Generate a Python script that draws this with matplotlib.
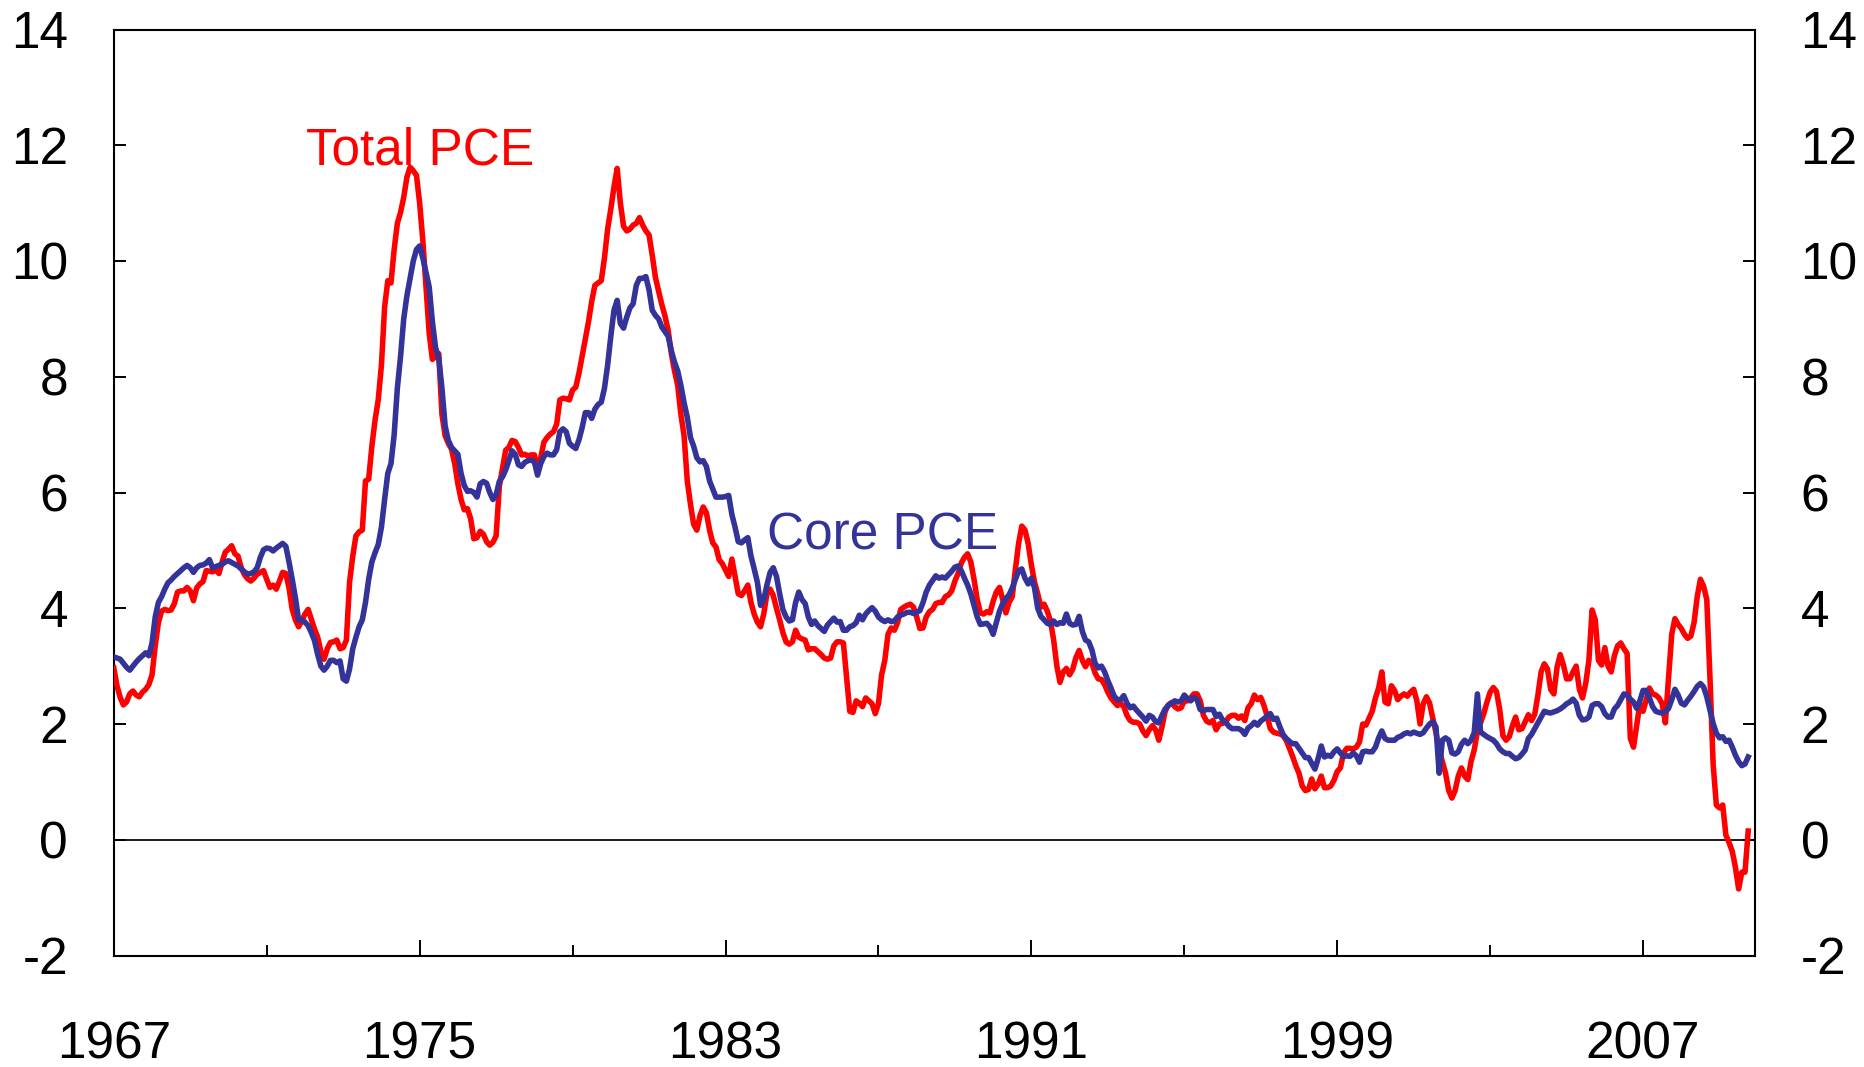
import numpy as np
import matplotlib
matplotlib.use("Agg")
import matplotlib.pyplot as plt
from matplotlib.ticker import FixedLocator

plt.rcParams['font.family'] = ['Liberation Sans', 'DejaVu Sans']

# ---- data: 12-month % change, monthly, Jan 1967 - Oct 2009 ----
total_pce = {
    1967: [2.97, 2.66, 2.46, 2.33, 2.38, 2.52, 2.57, 2.50, 2.47, 2.55, 2.60, 2.68],
    1968: [2.85, 3.35, 3.75, 3.95, 3.98, 3.96, 3.97, 4.08, 4.28, 4.30, 4.30, 4.36],
    1969: [4.30, 4.13, 4.35, 4.42, 4.46, 4.65, 4.64, 4.63, 4.66, 4.60, 4.80, 4.97],
    1970: [5.02, 5.08, 4.94, 4.90, 4.70, 4.58, 4.51, 4.47, 4.52, 4.59, 4.62, 4.65],
    1971: [4.50, 4.36, 4.40, 4.33, 4.47, 4.62, 4.60, 4.35, 3.98, 3.80, 3.68, 3.78],
    1972: [3.90, 3.98, 3.81, 3.64, 3.50, 3.25, 3.12, 3.30, 3.41, 3.42, 3.45, 3.30],
    1973: [3.32, 3.45, 4.45, 4.90, 5.25, 5.32, 5.35, 6.20, 6.23, 6.80, 7.25, 7.60],
    1974: [8.20, 9.20, 9.66, 9.62, 10.20, 10.65, 10.84, 11.10, 11.45, 11.62, 11.56, 11.48],
    1975: [11.00, 10.35, 9.55, 8.75, 8.30, 8.35, 8.40, 7.35, 6.98, 6.85, 6.75, 6.50],
    1976: [6.15, 5.88, 5.70, 5.72, 5.55, 5.20, 5.22, 5.33, 5.28, 5.15, 5.09, 5.14],
    1977: [5.25, 6.10, 6.42, 6.73, 6.78, 6.90, 6.88, 6.78, 6.65, 6.66, 6.63, 6.65],
    1978: [6.65, 6.40, 6.60, 6.87, 6.95, 7.01, 7.05, 7.18, 7.60, 7.63, 7.62, 7.60],
    1979: [7.77, 7.82, 8.06, 8.35, 8.65, 8.95, 9.30, 9.58, 9.62, 9.66, 10.05, 10.55],
    1980: [10.90, 11.28, 11.60, 11.00, 10.60, 10.52, 10.55, 10.62, 10.65, 10.75, 10.62, 10.52],
    1981: [10.45, 10.10, 9.72, 9.48, 9.25, 9.05, 8.80, 8.40, 8.10, 7.85, 7.35, 6.98],
    1982: [6.20, 5.80, 5.45, 5.35, 5.60, 5.75, 5.65, 5.35, 5.13, 5.06, 4.84, 4.77],
    1983: [4.66, 4.55, 4.85, 4.55, 4.25, 4.22, 4.30, 4.40, 4.10, 3.90, 3.76, 3.68],
    1984: [3.90, 4.25, 4.33, 4.22, 4.00, 3.80, 3.58, 3.42, 3.38, 3.42, 3.62, 3.50],
    1985: [3.47, 3.45, 3.28, 3.30, 3.30, 3.25, 3.20, 3.14, 3.12, 3.14, 3.35, 3.42],
    1986: [3.42, 3.40, 2.80, 2.22, 2.20, 2.40, 2.36, 2.30, 2.45, 2.40, 2.35, 2.18],
    1987: [2.35, 2.85, 3.10, 3.55, 3.66, 3.62, 3.75, 3.98, 4.02, 4.05, 4.07, 4.02],
    1988: [3.85, 3.65, 3.66, 3.85, 3.94, 3.98, 4.08, 4.10, 4.10, 4.20, 4.23, 4.30],
    1989: [4.47, 4.60, 4.78, 4.88, 4.94, 4.80, 4.50, 4.15, 3.92, 3.90, 3.94, 3.92],
    1990: [4.12, 4.28, 4.36, 4.15, 3.92, 4.10, 4.20, 4.68, 5.12, 5.42, 5.35, 5.12],
    1991: [4.75, 4.45, 4.25, 4.02, 4.07, 3.95, 3.78, 3.45, 3.00, 2.72, 2.90, 2.96],
    1992: [2.85, 2.95, 3.15, 3.27, 3.10, 2.99, 3.10, 3.05, 2.88, 2.78, 2.77, 2.68],
    1993: [2.55, 2.45, 2.38, 2.32, 2.35, 2.30, 2.15, 2.06, 2.03, 2.03, 2.00, 1.88],
    1994: [1.80, 1.90, 1.97, 1.90, 1.72, 1.95, 2.22, 2.33, 2.37, 2.30, 2.26, 2.28],
    1995: [2.40, 2.40, 2.45, 2.52, 2.52, 2.40, 2.15, 2.05, 2.02, 2.06, 1.90, 2.00],
    1996: [2.01, 2.04, 2.12, 2.15, 2.15, 2.10, 2.14, 2.06, 2.28, 2.35, 2.50, 2.42],
    1997: [2.46, 2.32, 2.14, 1.92, 1.86, 1.84, 1.83, 1.80, 1.72, 1.58, 1.44, 1.28],
    1998: [1.15, 0.93, 0.85, 0.87, 1.05, 0.88, 0.96, 1.10, 0.90, 0.90, 0.93, 1.03],
    1999: [1.18, 1.24, 1.50, 1.58, 1.58, 1.57, 1.60, 1.69, 2.00, 1.98, 2.10, 2.22],
    2000: [2.45, 2.62, 2.90, 2.38, 2.35, 2.66, 2.58, 2.42, 2.48, 2.52, 2.48, 2.55],
    2001: [2.60, 2.40, 2.00, 2.35, 2.47, 2.36, 2.10, 1.85, 1.55, 1.35, 1.15, 0.85],
    2002: [0.72, 0.85, 1.10, 1.24, 1.10, 1.04, 1.35, 1.55, 1.87, 2.02, 2.18, 2.38],
    2003: [2.55, 2.63, 2.56, 2.25, 1.80, 1.72, 1.78, 1.97, 2.12, 1.90, 1.92, 2.04],
    2004: [2.16, 2.06, 2.17, 2.50, 2.90, 3.04, 2.95, 2.60, 2.52, 2.98, 3.20, 3.02],
    2005: [2.78, 2.78, 2.90, 3.00, 2.60, 2.45, 2.70, 3.10, 3.97, 3.80, 3.10, 3.02],
    2006: [3.32, 3.00, 2.90, 3.18, 3.35, 3.40, 3.30, 3.22, 1.75, 1.60, 1.98, 2.35],
    2007: [2.22, 2.42, 2.62, 2.52, 2.50, 2.45, 2.35, 2.02, 2.80, 3.55, 3.82, 3.72],
    2008: [3.65, 3.55, 3.48, 3.52, 3.75, 4.20, 4.50, 4.38, 4.15, 2.80, 1.30, 0.60],
    2009: [0.55, 0.60, 0.08, -0.05, -0.20, -0.48, -0.85, -0.56, -0.56, 0.15],
}

core_pce = {
    1967: [3.16, 3.14, 3.12, 3.05, 2.98, 2.93, 3.00, 3.07, 3.13, 3.18, 3.23, 3.18],
    1968: [3.40, 3.85, 4.10, 4.20, 4.33, 4.44, 4.49, 4.55, 4.60, 4.65, 4.70, 4.74],
    1969: [4.70, 4.62, 4.70, 4.74, 4.75, 4.78, 4.84, 4.70, 4.72, 4.74, 4.76, 4.80],
    1970: [4.82, 4.79, 4.76, 4.73, 4.68, 4.63, 4.59, 4.60, 4.63, 4.70, 4.88, 5.01],
    1971: [5.04, 5.03, 4.99, 5.04, 5.08, 5.12, 5.07, 4.80, 4.50, 4.18, 3.80, 3.80],
    1972: [3.76, 3.70, 3.58, 3.44, 3.20, 3.00, 2.93, 3.00, 3.10, 3.10, 3.06, 3.09],
    1973: [2.78, 2.74, 2.95, 3.30, 3.50, 3.68, 3.80, 4.10, 4.50, 4.80, 4.96, 5.10],
    1974: [5.40, 5.88, 6.33, 6.50, 7.00, 7.80, 8.35, 9.00, 9.40, 9.70, 10.00, 10.20],
    1975: [10.26, 10.05, 9.80, 9.55, 8.95, 8.50, 8.32, 7.80, 7.15, 6.90, 6.78, 6.72],
    1976: [6.66, 6.33, 6.12, 6.02, 6.03, 6.00, 5.92, 6.15, 6.19, 6.16, 6.00, 5.88],
    1977: [5.96, 6.19, 6.27, 6.39, 6.55, 6.72, 6.66, 6.48, 6.45, 6.52, 6.55, 6.56],
    1978: [6.53, 6.30, 6.50, 6.62, 6.68, 6.65, 6.65, 6.74, 7.05, 7.10, 7.05, 6.85],
    1979: [6.80, 6.76, 6.91, 7.12, 7.38, 7.38, 7.28, 7.44, 7.52, 7.56, 7.80, 8.20],
    1980: [8.70, 9.15, 9.32, 8.92, 8.84, 9.03, 9.19, 9.26, 9.58, 9.70, 9.70, 9.73],
    1981: [9.50, 9.15, 9.06, 9.00, 8.86, 8.78, 8.70, 8.45, 8.25, 8.10, 7.85, 7.55],
    1982: [7.30, 6.95, 6.80, 6.60, 6.53, 6.55, 6.45, 6.20, 6.06, 5.92, 5.92, 5.92],
    1983: [5.93, 5.95, 5.62, 5.40, 5.15, 5.13, 5.18, 5.22, 4.90, 4.68, 4.45, 4.05],
    1984: [4.15, 4.40, 4.62, 4.70, 4.55, 4.25, 3.98, 3.85, 3.78, 3.80, 4.10, 4.28],
    1985: [4.15, 4.08, 3.85, 3.72, 3.78, 3.70, 3.65, 3.60, 3.71, 3.77, 3.83, 3.76],
    1986: [3.77, 3.62, 3.62, 3.68, 3.70, 3.75, 3.88, 3.80, 3.90, 3.96, 4.01, 3.95],
    1987: [3.85, 3.80, 3.77, 3.80, 3.77, 3.78, 3.85, 3.88, 3.90, 3.93, 3.93, 3.91],
    1988: [3.93, 3.96, 4.10, 4.28, 4.40, 4.48, 4.56, 4.52, 4.54, 4.52, 4.58, 4.64],
    1989: [4.71, 4.73, 4.65, 4.52, 4.40, 4.25, 4.05, 3.85, 3.72, 3.73, 3.74, 3.68],
    1990: [3.55, 3.75, 3.95, 4.08, 4.17, 4.23, 4.35, 4.50, 4.65, 4.68, 4.52, 4.42],
    1991: [4.52, 4.35, 4.00, 3.86, 3.80, 3.74, 3.72, 3.78, 3.72, 3.75, 3.74, 3.90],
    1992: [3.74, 3.71, 3.72, 3.86, 3.60, 3.45, 3.42, 3.28, 3.05, 2.97, 3.00, 2.90],
    1993: [2.75, 2.62, 2.48, 2.42, 2.42, 2.49, 2.36, 2.28, 2.31, 2.24, 2.18, 2.12],
    1994: [2.05, 2.15, 2.12, 2.04, 2.02, 2.15, 2.26, 2.32, 2.36, 2.40, 2.38, 2.40],
    1995: [2.50, 2.44, 2.40, 2.46, 2.42, 2.25, 2.23, 2.25, 2.25, 2.25, 2.13, 2.17],
    1996: [2.07, 2.03, 1.96, 1.92, 1.92, 1.92, 1.89, 1.82, 1.93, 1.97, 2.03, 1.98],
    1997: [2.05, 2.09, 2.14, 2.18, 2.08, 2.10, 1.95, 1.82, 1.75, 1.70, 1.66, 1.66],
    1998: [1.58, 1.50, 1.42, 1.42, 1.32, 1.22, 1.40, 1.62, 1.43, 1.46, 1.44, 1.52],
    1999: [1.57, 1.50, 1.44, 1.45, 1.44, 1.50, 1.45, 1.34, 1.52, 1.53, 1.52, 1.52],
    2000: [1.60, 1.76, 1.88, 1.75, 1.72, 1.72, 1.72, 1.77, 1.79, 1.83, 1.85, 1.83],
    2001: [1.86, 1.84, 1.82, 1.85, 1.93, 2.00, 2.04, 1.95, 1.15, 1.72, 1.76, 1.72],
    2002: [1.50, 1.48, 1.52, 1.65, 1.72, 1.66, 1.72, 1.85, 2.52, 1.86, 1.82, 1.78],
    2003: [1.75, 1.72, 1.66, 1.57, 1.52, 1.49, 1.49, 1.44, 1.40, 1.42, 1.48, 1.55],
    2004: [1.75, 1.82, 1.92, 2.02, 2.12, 2.22, 2.20, 2.19, 2.21, 2.23, 2.26, 2.30],
    2005: [2.35, 2.38, 2.43, 2.36, 2.15, 2.07, 2.08, 2.12, 2.32, 2.35, 2.35, 2.30],
    2006: [2.18, 2.12, 2.12, 2.26, 2.32, 2.42, 2.52, 2.50, 2.43, 2.38, 2.27, 2.40],
    2007: [2.58, 2.58, 2.45, 2.30, 2.22, 2.20, 2.19, 2.21, 2.27, 2.42, 2.60, 2.50],
    2008: [2.36, 2.33, 2.41, 2.48, 2.56, 2.65, 2.70, 2.64, 2.47, 2.24, 2.01, 1.84],
    2009: [1.76, 1.78, 1.70, 1.72, 1.60, 1.46, 1.35, 1.28, 1.31, 1.43],
}

x_tick_years = [1967, 1975, 1983, 1991, 1999, 2007]
x_minor_years = [1971, 1979, 1987, 1995, 2003]
y_ticks = [-2, 0, 2, 4, 6, 8, 10, 12, 14]

# ---- build monthly series ----
def flatten(d):
    vals = []
    for yr in sorted(d):
        vals.extend(d[yr])
    return np.array(vals)

total = flatten(total_pce)
core = flatten(core_pce)
t = 1967 + np.arange(len(total)) / 12.0

RED = '#FF0000'
BLUE = '#333399'
FS = 37

fig = plt.figure(figsize=(18.65, 10.67), dpi=100)
W, H = 1865, 1067
L, R, T, B = 113.8, 1754.7, 29.5, 955.5
ax = fig.add_axes([L / W, (H - B) / H, (R - L) / W, (B - T) / H])

ax.axhline(0, color='#1a1a1a', lw=1.4, zorder=1)
ax.plot(t, total, color=RED, lw=4.0, zorder=3, solid_joinstyle='round')
ax.plot(t, core, color=BLUE, lw=4.0, zorder=4, solid_joinstyle='round')

ax.set_xlim(1967, 2009.92)
ax.set_ylim(-2, 14)

ax.xaxis.set_major_locator(FixedLocator(x_tick_years))
ax.xaxis.set_minor_locator(FixedLocator(x_minor_years))
ax.set_xticklabels([str(y) for y in x_tick_years])
ax.yaxis.set_major_locator(FixedLocator(y_ticks))
ax.set_yticklabels([str(v) for v in y_ticks])

ax.tick_params(axis='x', which='major', direction='in', length=11.5, width=1.4,
               pad=47, labelsize=FS, top=False, bottom=True)
ax.tick_params(axis='x', which='minor', direction='in', length=8, width=1.4,
               top=False, bottom=True)
ax.tick_params(axis='y', which='major', direction='in', length=8.8, width=1.4,
               pad=33, labelsize=FS, left=True, right=True,
               labelleft=True, labelright=True)

for s in ax.spines.values():
    s.set_linewidth(1.5)
    s.set_color('black')

ax.text(1975.0, 11.66, 'Total PCE', color=RED, fontsize=FS, ha='center', va='baseline', zorder=5)
ax.text(1987.11, 5.02, 'Core PCE', color=BLUE, fontsize=FS, ha='center', va='baseline', zorder=5)

fig.savefig('out.png', dpi=100)
